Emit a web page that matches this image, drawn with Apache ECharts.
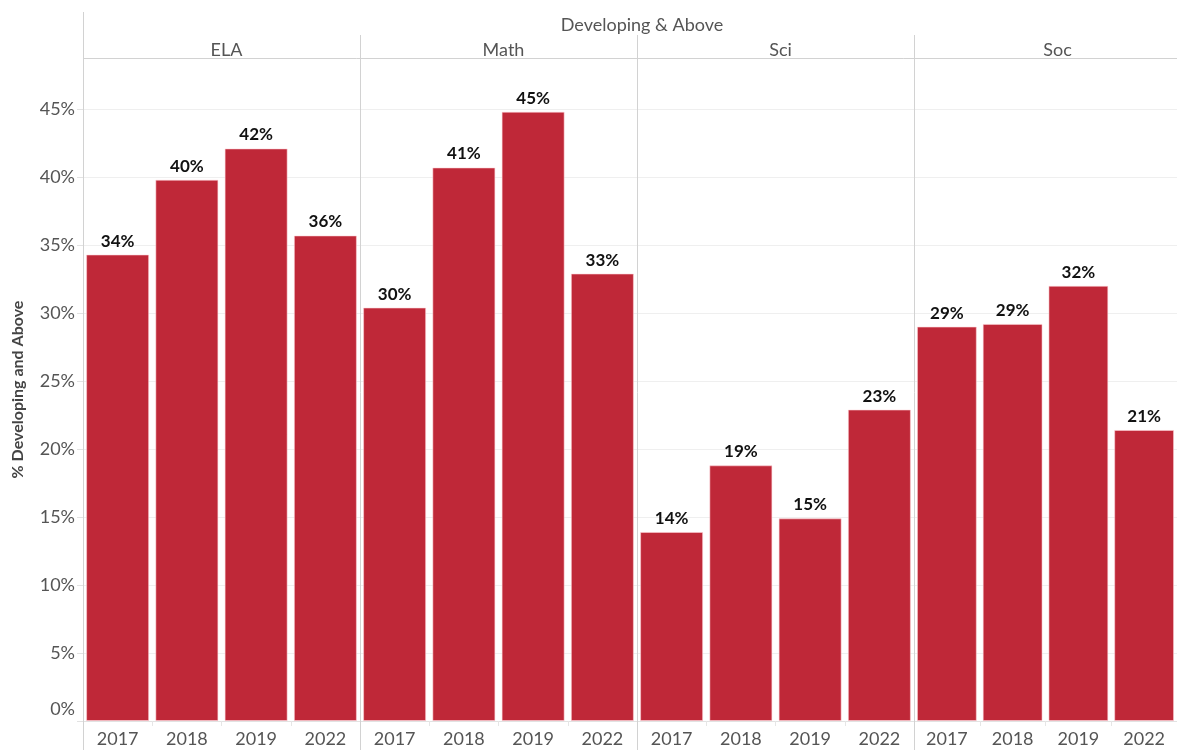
<!DOCTYPE html>
<html>
<head>
<meta charset="utf-8">
<script src="https://cdn.jsdelivr.net/npm/echarts@6/dist/echarts.min.js"></script>
<style>
  html, body { margin: 0; padding: 0; background: #fff; }
  #chart { width: 1177px; height: 750px; }
</style>
</head>
<body>
<div id="chart"></div>
<script>
// Share of students at "Developing & Above", by subject and year (percent)
const subjects = ['ELA', 'Math', 'Sci', 'Soc'];
const years = ['2017', '2018', '2019', '2022'];
const elaValues = [34.3, 39.8, 42.1, 35.7];
const mathValues = [30.4, 40.7, 44.8, 32.9];
const sciValues = [13.9, 18.8, 14.9, 22.9];
const socValues = [29.0, 29.2, 32.0, 21.4];
const yTickStep = 5;
const yMax = 48.75;

const seriesValues = [elaValues, mathValues, sciValues, socValues];

const FONT = 'Lato, "Open Sans", sans-serif';
const BAR_COLOR = '#BF2838';
const LINE_COLOR = '#d2d2d2';

// Panel geometry
const plotLeft = 83;
const panelWidth = 277;
const plotTop = 58;
const plotBottom = 721;
const H = 750;

const grids = [], xAxes = [], yAxes = [], series = [], titles = [];

subjects.forEach(function (subj, i) {
  const left = plotLeft + i * panelWidth;
  grids.push({ left: left, width: panelWidth, top: plotTop, bottom: H - plotBottom, containLabel: false });
  xAxes.push({
    type: 'category', gridIndex: i, data: years,
    axisLine: { show: true, lineStyle: { color: '#e2e2e2' } },
    axisTick: { show: true, length: 5, lineStyle: { color: '#e6e6e6' } },
    axisLabel: { color: '#555', fontFamily: FONT, fontSize: 18, margin: 9 }
  });
  yAxes.push({
    type: 'value', gridIndex: i, min: 0, max: yMax, interval: yTickStep,
    axisLine: { show: false },
    axisTick: { show: i === 0, length: 6, lineStyle: { color: '#e2e2e2' } },
    splitLine: { show: true, lineStyle: { color: '#efefef', width: 1 } },
    axisLabel: {
      show: i === 0, showMaxLabel: false, color: '#555', fontFamily: FONT, fontSize: 18, margin: 8,
      formatter: function (v) { return v === 0 ? '{z|0%}' : v + '%'; },
      rich: { z: { color: '#555', fontFamily: FONT, fontSize: 18, padding: [0, 0, 24, 0] } }
    },
    name: i === 0 ? '% Developing and Above' : '',
    nameLocation: 'middle', nameRotate: 90, nameGap: 57,
    nameTextStyle: { color: '#444', fontFamily: FONT, fontSize: 16, fontWeight: 'bold' }
  });
  series.push({
    type: 'bar', xAxisIndex: i, yAxisIndex: i, data: seriesValues[i],
    barCategoryGap: '9%',
    itemStyle: { color: BAR_COLOR, borderColor: 'rgba(255,210,215,0.55)', borderWidth: 1 },
    label: {
      show: true, position: 'top', distance: 5, color: '#111',
      fontFamily: FONT, fontSize: 17, fontWeight: 'bold',
      formatter: function (p) { return Math.round(p.value) + '%'; }
    },
    silent: true, animation: false
  });
  titles.push({
    text: subj, left: left + panelWidth / 2, top: 36, textAlign: 'center',
    textStyle: { color: '#555', fontFamily: FONT, fontSize: 18, fontWeight: 'normal' }
  });
});

titles.push({
  text: 'Developing & Above', left: plotLeft + (panelWidth * 4) / 2, top: 11, textAlign: 'center',
  textStyle: { color: '#555', fontFamily: FONT, fontSize: 18, fontWeight: 'normal' }
});

// Frame lines: left edge, panel separators, header underline
const graphics = [
  { type: 'line', shape: { x1: plotLeft + 0.5, y1: 12, x2: plotLeft + 0.5, y2: H }, style: { stroke: LINE_COLOR, lineWidth: 1 }, z: 10 },
  { type: 'line', shape: { x1: plotLeft, y1: plotTop + 0.5, x2: 1177, y2: plotTop + 0.5 }, style: { stroke: LINE_COLOR, lineWidth: 1 }, z: 10 }
];
for (let i = 1; i < subjects.length; i++) {
  const x = plotLeft + i * panelWidth + 0.5;
  graphics.push({ type: 'line', shape: { x1: x, y1: 35, x2: x, y2: H }, style: { stroke: LINE_COLOR, lineWidth: 1 }, z: 10 });
}

const chart = echarts.init(document.getElementById('chart'), null, { renderer: 'canvas' });
chart.setOption({
  backgroundColor: '#ffffff',
  animation: false,
  title: titles,
  grid: grids,
  xAxis: xAxes,
  yAxis: yAxes,
  series: series,
  graphic: graphics
});
</script>
</body>
</html>
